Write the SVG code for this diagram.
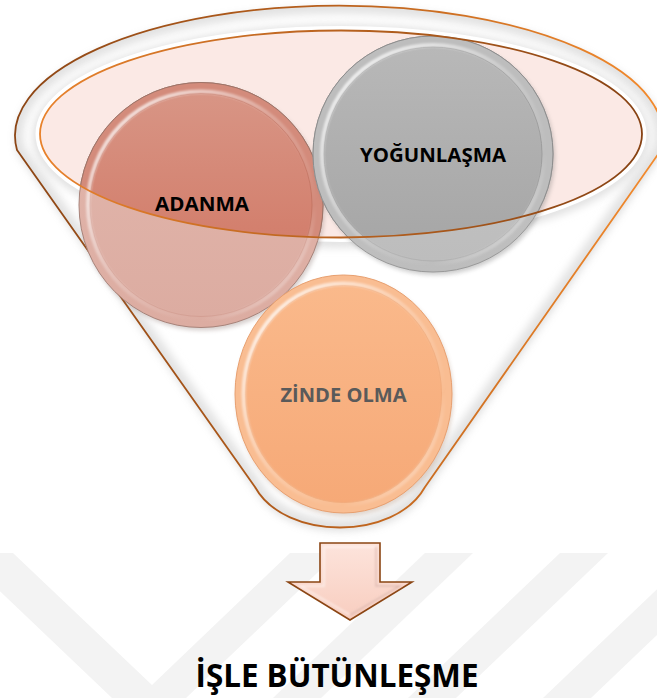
<svg xmlns="http://www.w3.org/2000/svg" width="657" height="698" viewBox="0 0 657 698">
  <defs>
    <linearGradient id="gOuterStroke" gradientUnits="userSpaceOnUse" x1="0" y1="0" x2="657" y2="0">
      <stop offset="0" stop-color="#8a4414"/>
      <stop offset="0.5" stop-color="#b9601c"/>
      <stop offset="1" stop-color="#f38a2c"/>
    </linearGradient>
    <linearGradient id="gInnerStroke" gradientUnits="userSpaceOnUse" x1="40" y1="0" x2="642" y2="0">
      <stop offset="0" stop-color="#e8822c"/>
      <stop offset="0.5" stop-color="#b8621f"/>
      <stop offset="1" stop-color="#874213"/>
    </linearGradient>
    <linearGradient id="gAdIn" x1="0" y1="0" x2="0" y2="1">
      <stop offset="0" stop-color="#d89585"/>
      <stop offset="0.6" stop-color="#d3806e"/>
      <stop offset="1" stop-color="#d07a68"/>
    </linearGradient>
    <linearGradient id="gAdOut" x1="0" y1="0" x2="0" y2="1">
      <stop offset="0" stop-color="#e2b7ad"/>
      <stop offset="1" stop-color="#dcaca1"/>
    </linearGradient>
    <linearGradient id="gGrIn" x1="0" y1="0" x2="0" y2="1">
      <stop offset="0" stop-color="#b8b8b8"/>
      <stop offset="1" stop-color="#a5a5a5"/>
    </linearGradient>
    <linearGradient id="gGrOut" x1="0" y1="0" x2="0" y2="1">
      <stop offset="0" stop-color="#c6c6c6"/>
      <stop offset="1" stop-color="#bdbdbd"/>
    </linearGradient>
    <linearGradient id="gZi" x1="0" y1="0" x2="0" y2="1">
      <stop offset="0" stop-color="#fab98b"/>
      <stop offset="1" stop-color="#f6a977"/>
    </linearGradient>
    <linearGradient id="gHi" x1="0" y1="0" x2="1" y2="1">
      <stop offset="0" stop-color="#ffffff" stop-opacity="0.95"/>
      <stop offset="0.45" stop-color="#ffffff" stop-opacity="0.25"/>
      <stop offset="0.75" stop-color="#ffffff" stop-opacity="0"/>
      <stop offset="1" stop-color="#ffffff" stop-opacity="0.6"/>
    </linearGradient>
    <linearGradient id="gArrow" x1="0" y1="0" x2="0" y2="1">
      <stop offset="0" stop-color="#fde4dc"/>
      <stop offset="1" stop-color="#f8cdbf"/>
    </linearGradient>
    <filter id="fBlur4" x="-10%" y="-10%" width="120%" height="120%">
      <feGaussianBlur stdDeviation="4"/>
    </filter>
    <filter id="fBlur2" x="-10%" y="-10%" width="120%" height="120%">
      <feGaussianBlur stdDeviation="2"/>
    </filter>
    <filter id="fBlur1" x="-10%" y="-10%" width="120%" height="120%">
      <feGaussianBlur stdDeviation="1"/>
    </filter>
    <clipPath id="cpFunnel">
      <path d="M17,150 A324,130 0 1 1 661,150 L425,487 C395,541 285,541 255,487 Z"/>
    </clipPath>
    <clipPath id="cpInner">
      <ellipse cx="341" cy="134" rx="301" ry="103.5"/>
    </clipPath>
    <style>
      .lbl { font-family: "Open Sans", "Liberation Sans", sans-serif; font-weight: bold; text-anchor: middle; }
      .hi { fill: none; stroke: url(#gHi); stroke-width: 4; filter: url(#fBlur1); }
    </style>
  </defs>

  <rect width="657" height="698" fill="#ffffff"/>

  <!-- faint watermark -->
  <g id="watermark" fill="#f3f3f3">
    <polygon points="-40,553 13,553 152,685 290,553 338,553 186,698 112,698"/>
    <polygon points="425,553 473,553 321,698 273,698"/>
    <polygon points="560,553 608,553 456,698 408,698"/>
    <polygon points="695,553 743,553 591,698 543,698"/>
  </g>

  <!-- funnel -->
  <g id="funnel">
    <path d="M17,150 A324,130 0 1 1 661,150 L425,487 C395,541 285,541 255,487 Z" fill="#9a9a9a" opacity="0.35" filter="url(#fBlur4)" transform="translate(1,3)"/>
    <path d="M17,150 A324,130 0 1 1 661,150 L425,487 C395,541 285,541 255,487 Z" fill="#ffffff"/>
    <g clip-path="url(#cpFunnel)">
      <path d="M17,150 A324,130 0 1 1 661,150 L425,487 C395,541 285,541 255,487 Z" fill="none" stroke="#e2e2e2" stroke-width="16" filter="url(#fBlur4)"/>
    </g>
    <ellipse cx="341" cy="136" rx="303" ry="106" fill="none" stroke="#dedede" stroke-width="10" filter="url(#fBlur4)"/>
    <ellipse cx="341" cy="134" rx="301" ry="103.5" fill="none" stroke="#ffffff" stroke-width="9"/>
    <ellipse cx="341" cy="134" rx="301" ry="103.5" fill="#fbe9e5"/>
    <path d="M17,150 A324,130 0 1 1 661,150 L425,487 C395,541 285,541 255,487 Z" fill="none" stroke="url(#gOuterStroke)" stroke-width="1.8" stroke-linejoin="round"/>
  </g>

  <!-- ADANMA -->
  <g id="node-adanma">
    <ellipse cx="203" cy="208" rx="122" ry="122.5" fill="#8a7470" opacity="0.35" filter="url(#fBlur2)"/>
    <ellipse cx="201" cy="205" rx="122" ry="122.5" fill="url(#gAdOut)" stroke="#a8847b" stroke-width="1"/>
    <ellipse cx="201" cy="205" rx="111" ry="111.5" fill="url(#gAdOut)" stroke="#d49f93" stroke-width="1"/>
    <ellipse cx="201" cy="205" rx="113" ry="113.5" class="hi"/>
    <g clip-path="url(#cpInner)">
      <ellipse cx="201" cy="205" rx="122" ry="122.5" fill="#d38b7b" stroke="#9e7468" stroke-width="1"/>
      <ellipse cx="201" cy="205" rx="111" ry="111.5" fill="url(#gAdIn)" stroke="#c57664" stroke-width="1"/>
      <ellipse cx="201" cy="205" rx="113" ry="113.5" class="hi"/>
    </g>
    <text x="202" y="211" class="lbl" font-size="20" fill="#000000" textLength="94" lengthAdjust="spacingAndGlyphs">ADANMA</text>
  </g>

  <!-- YOĞUNLAŞMA -->
  <g id="node-yogunlasma">
    <ellipse cx="435" cy="157" rx="120" ry="118" fill="#707070" opacity="0.35" filter="url(#fBlur2)"/>
    <ellipse cx="433" cy="154" rx="120" ry="118" fill="url(#gGrOut)" stroke="#9a9a9a" stroke-width="1"/>
    <ellipse cx="433" cy="154" rx="109" ry="107" fill="url(#gGrOut)" stroke="#b0b0b0" stroke-width="1"/>
    <ellipse cx="433" cy="154" rx="111" ry="109" class="hi"/>
    <g clip-path="url(#cpInner)">
      <ellipse cx="433" cy="154" rx="120" ry="118" fill="#bdbdbd" stroke="#8e8e8e" stroke-width="1"/>
      <ellipse cx="433" cy="154" rx="109" ry="107" fill="url(#gGrIn)" stroke="#9c9c9c" stroke-width="1"/>
      <ellipse cx="433" cy="154" rx="111" ry="109" class="hi"/>
    </g>
    <text x="433" y="162" class="lbl" font-size="20" fill="#000000" textLength="146" lengthAdjust="spacingAndGlyphs">YOĞUNLAŞMA</text>
  </g>

  <!-- inner ellipse outline over the circles -->
  <g id="funnel-rim">
    <ellipse cx="341" cy="134" rx="301" ry="103.5" fill="none" stroke="url(#gInnerStroke)" stroke-width="1.8"/>
  </g>

  <!-- ZİNDE OLMA -->
  <g id="node-zinde">
    <ellipse cx="345" cy="397" rx="108.5" ry="119" fill="#a07a60" opacity="0.3" filter="url(#fBlur2)"/>
    <ellipse cx="343.5" cy="394" rx="108.5" ry="119" fill="#f9bd92" stroke="#e8a070" stroke-width="1"/>
    <ellipse cx="343.5" cy="394" rx="98" ry="108.5" fill="url(#gZi)" stroke="#f2ac7c" stroke-width="1"/>
    <ellipse cx="343.5" cy="394" rx="100" ry="110.5" class="hi"/>
    <text x="343.5" y="402" class="lbl" font-size="20" fill="#5a5a5a" textLength="126" lengthAdjust="spacingAndGlyphs">ZİNDE OLMA</text>
  </g>

  <!-- connector arrow -->
  <g id="connectors">
    <path d="M320,543 L380,543 L380,582 L412,582 L350,620 L288,582 L320,582 Z" fill="url(#gArrow)" stroke="#8b4513" stroke-width="1.6" stroke-linejoin="miter"/>
    <path d="M324,547 L376,547 L376,586 L400,586 L350,615 L300,586 L324,586 Z" fill="none" stroke="#ffffff" stroke-opacity="0.6" stroke-width="1.5" filter="url(#fBlur1)"/>
    <path d="M376,547 L376,586 L400,586 L350,615" fill="none" stroke="#c98f7e" stroke-opacity="0.6" stroke-width="1.5" filter="url(#fBlur1)"/>
  </g>

  <!-- result -->
  <g id="node-result">
    <text x="337" y="687" class="lbl" font-size="32" fill="#000000" textLength="283" lengthAdjust="spacingAndGlyphs">İŞLE BÜTÜNLEŞME</text>
  </g>
</svg>
